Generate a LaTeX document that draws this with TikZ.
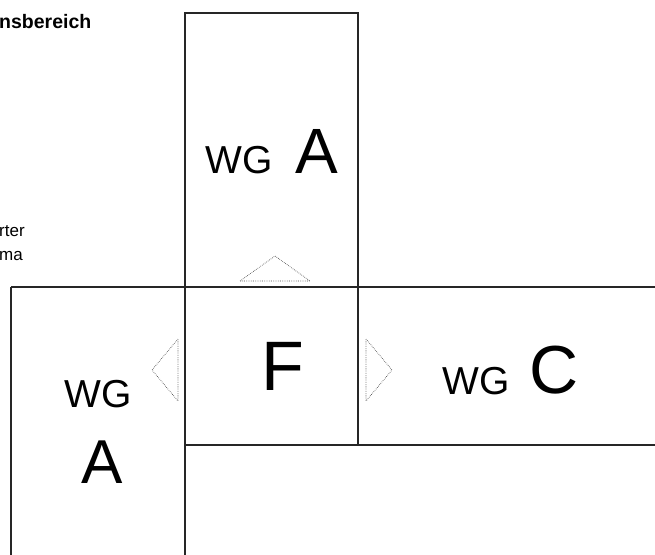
\documentclass[tikz,border=0pt]{standalone}
\usepackage{fontspec}
\setmainfont{Liberation Sans}
\begin{document}
\begin{tikzpicture}[x=1pt,y=-1pt,
  wall/.style={draw=black!85,line width=1.2pt},
  hint/.style={draw=black!75,dash pattern=on 0.6pt off 1.2pt,line width=0.7pt},
  lbl/.style={inner sep=0pt,anchor=base west}]
\useasboundingbox (0,0) rectangle (655,554);
\clip (0,0) rectangle (655,554);
% regions
\coordinate (tl) at (185,13);
\coordinate (tr) at (358,13);
\coordinate (fl) at (185,287);
\coordinate (fr) at (358,287);
\coordinate (fbl) at (185,445);
\coordinate (fbr) at (358,445);
\coordinate (ll) at (11,287);
\coordinate (llb) at (11,560);
\coordinate (fbb) at (185,560);
\coordinate (re) at (660,287);
\coordinate (reb) at (660,445);
\draw[wall] (fl) -- (tl) -- (tr) -- (fr);
\draw[wall] (ll) -- (re);
\draw[wall] (llb) -- (ll);
\draw[wall] (fl) -- (fbb);
\draw[wall] (fr) -- (fbr);
\draw[wall] (fbl) -- (reb);
% direction hints
\draw[hint] (240,281) -- (275,256) -- (310,281) -- cycle;
\draw[hint] (178,339) -- (152,370) -- (178,401) -- cycle;
\draw[hint] (366,339) -- (392,370) -- (366,401) -- cycle;
% labels
\node[lbl] (wgA1) at (205,173) {\fontsize{39}{39}\selectfont WG};
\node[lbl] (A1) at (295,173) {\fontsize{64}{64}\selectfont A};
\node[lbl] (F) at (261,390) {\fontsize{70}{70}\selectfont F};
\node[lbl] (wgC) at (442,394) {\fontsize{39}{39}\selectfont WG};
\node[lbl] (C) at (529,393) {\fontsize{68}{68}\selectfont C};
\node[lbl] (wgA2) at (64,407) {\fontsize{39}{39}\selectfont WG};
\node[lbl] (A2) at (81,483) {\fontsize{62}{62}\selectfont A};
\node[lbl] (t1) at (-1,28) {\fontsize{19.5}{19.5}\selectfont\bfseries nsbereich};
\node[lbl] (t2) at (-1,236) {\fontsize{17}{17}\selectfont rter};
\node[lbl] (t3) at (-1,260) {\fontsize{17}{17}\selectfont ma};
\end{tikzpicture}
\end{document}
